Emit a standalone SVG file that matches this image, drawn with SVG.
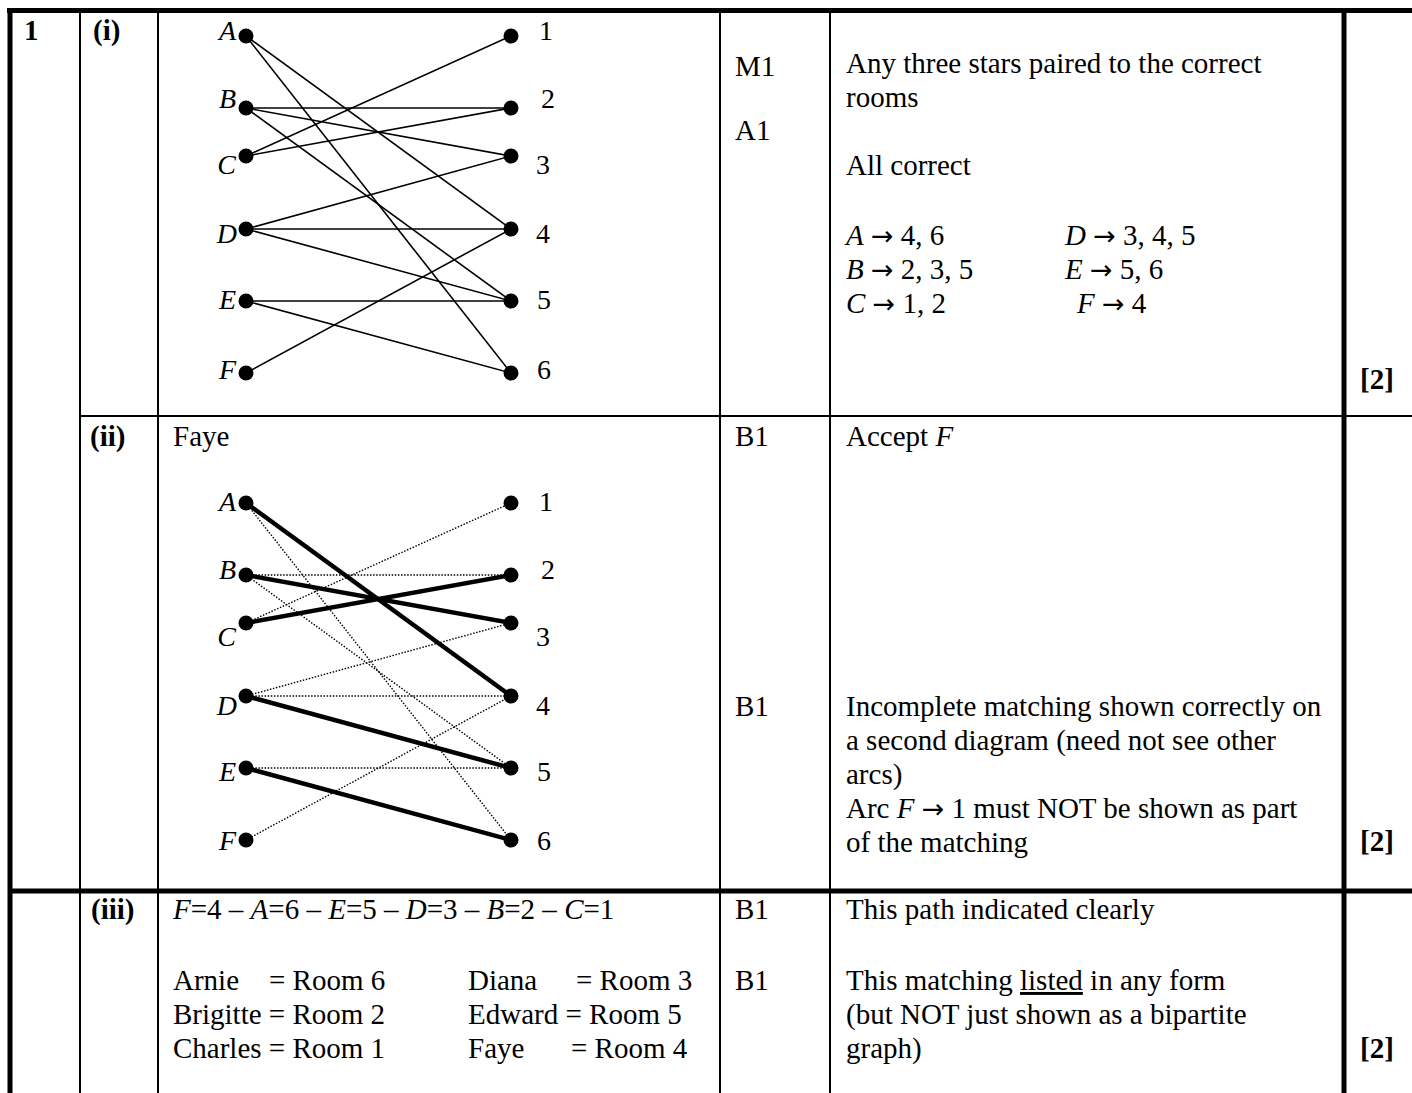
<svg xmlns="http://www.w3.org/2000/svg" width="1412" height="1093" viewBox="0 0 1412 1093">
<style>
.t{font-family:"Liberation Serif","Times New Roman",serif;font-size:29px;fill:#000}
.b{font-weight:bold}
.i{font-style:italic}
.lbl{font-size:28px}
.ar{font-family:"DejaVu Sans",sans-serif;font-size:27px}
.thin{stroke:#000;stroke-width:1.6;fill:none}
.thick{stroke:#000;stroke-width:4.5;fill:none}
.dot{stroke:#000;stroke-width:1.4;stroke-dasharray:1.5 1.6;fill:none}
.grid{stroke:#000;stroke-width:2;fill:none}
.border{stroke:#000;stroke-width:5;fill:none}
.node{fill:#000}
</style>
<rect x="0" y="0" width="1412" height="1093" fill="#fff"/>
<g id="table">
<line class="border" x1="7" y1="10.5" x2="1412" y2="10.5"/>
<line class="border" x1="10" y1="8" x2="10" y2="1093"/>
<line class="grid" x1="80" y1="10" x2="80" y2="1093"/>
<line class="grid" x1="158" y1="10" x2="158" y2="1093"/>
<line class="grid" x1="720" y1="10" x2="720" y2="1093"/>
<line class="grid" x1="830" y1="10" x2="830" y2="1093"/>
<line class="border" x1="1344" y1="10" x2="1344" y2="1093"/>
<line class="grid" x1="80" y1="416" x2="1412" y2="416"/>
<line class="border" x1="10" y1="891" x2="1412" y2="891"/>
</g>
<g id="row-labels">
<text class="t b" x="24" y="40">1</text>
<text class="t b" x="93" y="40">(i)</text>
<text class="t b" x="90" y="446">(ii)</text>
<text class="t b" x="91" y="919">(iii)</text>
<text class="t b" x="1360" y="389">[2]</text>
<text class="t b" x="1360" y="851">[2]</text>
<text class="t b" x="1360" y="1058">[2]</text>
</g>
<g id="connectors">
<line class="thin" x1="246" y1="36" x2="511" y2="229"/>
<line class="thin" x1="246" y1="36" x2="511" y2="373"/>
<line class="thin" x1="246" y1="108" x2="511" y2="108"/>
<line class="thin" x1="246" y1="108" x2="511" y2="156"/>
<line class="thin" x1="246" y1="108" x2="511" y2="301"/>
<line class="thin" x1="246" y1="156" x2="511" y2="36"/>
<line class="thin" x1="246" y1="156" x2="511" y2="108"/>
<line class="thin" x1="246" y1="229" x2="511" y2="156"/>
<line class="thin" x1="246" y1="229" x2="511" y2="229"/>
<line class="thin" x1="246" y1="229" x2="511" y2="301"/>
<line class="thin" x1="246" y1="301" x2="511" y2="301"/>
<line class="thin" x1="246" y1="301" x2="511" y2="373"/>
<line class="thin" x1="246" y1="373" x2="511" y2="229"/>
<line class="dot" x1="246" y1="503" x2="511" y2="840"/>
<line class="dot" x1="246" y1="575" x2="511" y2="575"/>
<line class="dot" x1="246" y1="575" x2="511" y2="768"/>
<line class="dot" x1="246" y1="623" x2="511" y2="503"/>
<line class="dot" x1="246" y1="696" x2="511" y2="623"/>
<line class="dot" x1="246" y1="696" x2="511" y2="696"/>
<line class="dot" x1="246" y1="768" x2="511" y2="768"/>
<line class="dot" x1="246" y1="840" x2="511" y2="696"/>
<line class="thick" x1="246" y1="503" x2="511" y2="696"/>
<line class="thick" x1="246" y1="575" x2="511" y2="623"/>
<line class="thick" x1="246" y1="623" x2="511" y2="575"/>
<line class="thick" x1="246" y1="696" x2="511" y2="768"/>
<line class="thick" x1="246" y1="768" x2="511" y2="840"/>
</g>
<g id="g1-A"><circle class="node" cx="246" cy="36" r="7.5"/><text class="t i lbl" x="236" y="40" text-anchor="end">A</text></g>
<g id="g1-B"><circle class="node" cx="246" cy="108" r="7.5"/><text class="t i lbl" x="236" y="108" text-anchor="end">B</text></g>
<g id="g1-C"><circle class="node" cx="246" cy="156" r="7.5"/><text class="t i lbl" x="236" y="174" text-anchor="end">C</text></g>
<g id="g1-D"><circle class="node" cx="246" cy="229" r="7.5"/><text class="t i lbl" x="237" y="243" text-anchor="end">D</text></g>
<g id="g1-E"><circle class="node" cx="246" cy="301" r="7.5"/><text class="t i lbl" x="236" y="309" text-anchor="end">E</text></g>
<g id="g1-F"><circle class="node" cx="246" cy="373" r="7.5"/><text class="t i lbl" x="236" y="379" text-anchor="end">F</text></g>
<g id="g1-1"><circle class="node" cx="511" cy="36" r="7.5"/><text class="t lbl" x="539" y="40">1</text></g>
<g id="g1-2"><circle class="node" cx="511" cy="108" r="7.5"/><text class="t lbl" x="541" y="108">2</text></g>
<g id="g1-3"><circle class="node" cx="511" cy="156" r="7.5"/><text class="t lbl" x="536" y="174">3</text></g>
<g id="g1-4"><circle class="node" cx="511" cy="229" r="7.5"/><text class="t lbl" x="536" y="243">4</text></g>
<g id="g1-5"><circle class="node" cx="511" cy="301" r="7.5"/><text class="t lbl" x="537" y="309">5</text></g>
<g id="g1-6"><circle class="node" cx="511" cy="373" r="7.5"/><text class="t lbl" x="537" y="379">6</text></g>
<g id="g2-A"><circle class="node" cx="246" cy="503" r="7.5"/><text class="t i lbl" x="236" y="511" text-anchor="end">A</text></g>
<g id="g2-B"><circle class="node" cx="246" cy="575" r="7.5"/><text class="t i lbl" x="236" y="579" text-anchor="end">B</text></g>
<g id="g2-C"><circle class="node" cx="246" cy="623" r="7.5"/><text class="t i lbl" x="236" y="646" text-anchor="end">C</text></g>
<g id="g2-D"><circle class="node" cx="246" cy="696" r="7.5"/><text class="t i lbl" x="237" y="715" text-anchor="end">D</text></g>
<g id="g2-E"><circle class="node" cx="246" cy="768" r="7.5"/><text class="t i lbl" x="236" y="781" text-anchor="end">E</text></g>
<g id="g2-F"><circle class="node" cx="246" cy="840" r="7.5"/><text class="t i lbl" x="236" y="850" text-anchor="end">F</text></g>
<g id="g2-1"><circle class="node" cx="511" cy="503" r="7.5"/><text class="t lbl" x="539" y="511">1</text></g>
<g id="g2-2"><circle class="node" cx="511" cy="575" r="7.5"/><text class="t lbl" x="541" y="579">2</text></g>
<g id="g2-3"><circle class="node" cx="511" cy="623" r="7.5"/><text class="t lbl" x="536" y="646">3</text></g>
<g id="g2-4"><circle class="node" cx="511" cy="696" r="7.5"/><text class="t lbl" x="536" y="715">4</text></g>
<g id="g2-5"><circle class="node" cx="511" cy="768" r="7.5"/><text class="t lbl" x="537" y="781">5</text></g>
<g id="g2-6"><circle class="node" cx="511" cy="840" r="7.5"/><text class="t lbl" x="537" y="850">6</text></g>
<g id="row-i-text">
<text class="t" x="735" y="76">M1</text>
<text class="t" x="735" y="140">A1</text>
<text class="t" x="846" y="73">Any three stars paired to the correct</text>
<text class="t" x="846" y="107">rooms</text>
<text class="t" x="846" y="175">All correct</text>
<text class="t" x="846" y="245"><tspan class="i">A</tspan> <tspan class="ar">→</tspan> 4, 6</text>
<text class="t" x="846" y="279"><tspan class="i">B</tspan> <tspan class="ar">→</tspan> 2, 3, 5</text>
<text class="t" x="846" y="313"><tspan class="i">C</tspan> <tspan class="ar">→</tspan> 1, 2</text>
<text class="t" x="1065" y="245"><tspan class="i">D</tspan> <tspan class="ar">→</tspan> 3, 4, 5</text>
<text class="t" x="1065" y="279"><tspan class="i">E</tspan> <tspan class="ar">→</tspan> 5, 6</text>
<text class="t" x="1077" y="313"><tspan class="i">F</tspan> <tspan class="ar">→</tspan> 4</text>
</g>
<g id="row-ii-text">
<text class="t" x="173" y="446">Faye</text>
<text class="t" x="735" y="446">B1</text>
<text class="t" x="846" y="446">Accept <tspan class="i">F</tspan></text>
<text class="t" x="735" y="716">B1</text>
<text class="t" x="846" y="716">Incomplete matching shown correctly on</text>
<text class="t" x="846" y="750">a second diagram (need not see other</text>
<text class="t" x="846" y="784">arcs)</text>
<text class="t" x="846" y="818">Arc <tspan class="i">F</tspan> <tspan class="ar">→</tspan> 1 must NOT be shown as part</text>
<text class="t" x="846" y="852">of the matching</text>
</g>
<g id="row-iii-text">
<text class="t" x="173" y="919"><tspan class="i">F</tspan>=4 – <tspan class="i">A</tspan>=6 – <tspan class="i">E</tspan>=5 – <tspan class="i">D</tspan>=3 – <tspan class="i">B</tspan>=2 – <tspan class="i">C</tspan>=1</text>
<text class="t" x="173" y="990">Arnie</text>
<text class="t" x="269" y="990">= Room 6</text>
<text class="t" x="173" y="1024">Brigitte = Room 2</text>
<text class="t" x="173" y="1058">Charles = Room 1</text>
<text class="t" x="468" y="990">Diana</text>
<text class="t" x="576" y="990">= Room 3</text>
<text class="t" x="468" y="1024">Edward = Room 5</text>
<text class="t" x="468" y="1058">Faye</text>
<text class="t" x="571" y="1058">= Room 4</text>
<text class="t" x="735" y="919">B1</text>
<text class="t" x="846" y="919">This path indicated clearly</text>
<text class="t" x="735" y="990">B1</text>
<text class="t" x="846" y="990">This matching <tspan text-decoration="underline">listed</tspan> in any form</text>
<text class="t" x="846" y="1024">(but NOT just shown as a bipartite</text>
<text class="t" x="846" y="1058">graph)</text>
</g>
</svg>
